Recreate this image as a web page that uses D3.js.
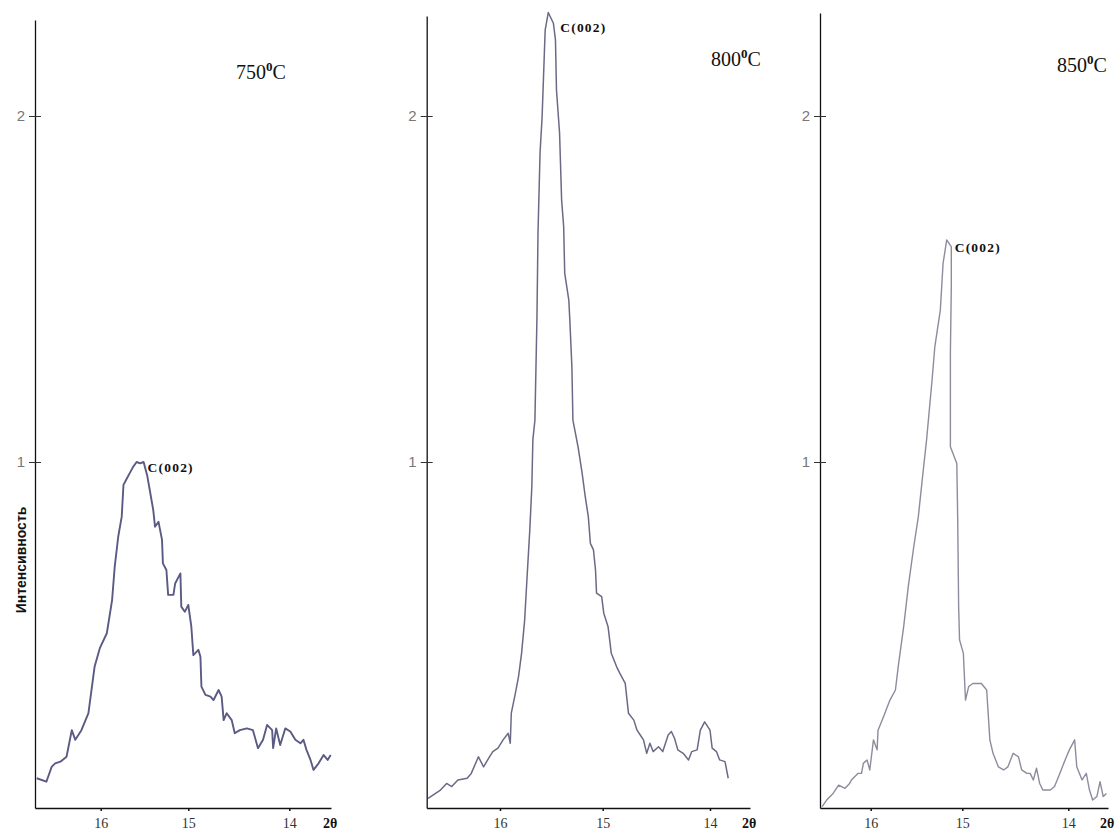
<!DOCTYPE html>
<html>
<head>
<meta charset="utf-8">
<script src="https://cdn.jsdelivr.net/npm/d3@7"></script>
<style>
  html, body { margin: 0; padding: 0; background: #fff; }
  svg { display: block; }
</style>
</head>
<body>
<svg id="chart" width="1118" height="830"></svg>
<script>
// XRD patterns of carbon samples annealed at three temperatures, C(002) reflection region
const temperatures = ["750", "800", "850"];
const thetaTicks = [16, 15, 14];
const intensityTicks = [1, 2];
const peakLabel = "C(002)";
const yAxisTitle = "Интенсивность";
const xAxisTitle = "2θ";

const twoTheta750 = [16.73,16.62,16.56,16.52,16.46,16.39,16.33,16.29,16.22,16.14,16.07,16.01,15.93,15.87,15.84,15.80,15.76,15.74,15.70,15.67,15.63,15.59,15.55,15.51,15.47,15.44,15.40,15.38,15.34,15.30,15.29,15.25,15.23,15.17,15.15,15.09,15.08,15.04,15.00,14.97,14.95,14.90,14.88,14.87,14.83,14.78,14.75,14.70,14.67,14.65,14.62,14.57,14.54,14.49,14.42,14.36,14.31,14.26,14.22,14.17,14.16,14.13,14.09,14.04,13.99,13.94,13.89,13.86,13.83,13.79,13.76,13.71,13.66,13.62,13.59];
const intensity750 = [0.086,0.076,0.119,0.129,0.134,0.148,0.225,0.197,0.225,0.274,0.408,0.462,0.505,0.601,0.697,0.784,0.842,0.934,0.953,0.967,0.986,1.000,0.996,1.000,0.962,0.919,0.861,0.813,0.827,0.775,0.707,0.688,0.616,0.616,0.649,0.678,0.582,0.567,0.587,0.524,0.442,0.457,0.437,0.351,0.327,0.322,0.312,0.341,0.322,0.254,0.274,0.254,0.216,0.225,0.230,0.225,0.173,0.197,0.240,0.225,0.173,0.230,0.182,0.230,0.221,0.197,0.187,0.197,0.168,0.139,0.110,0.129,0.153,0.139,0.153];

const twoTheta800 = [16.70,16.65,16.58,16.52,16.47,16.41,16.32,16.28,16.21,16.16,16.11,16.07,16.02,15.97,15.92,15.90,15.89,15.85,15.82,15.79,15.76,15.74,15.71,15.69,15.68,15.66,15.64,15.63,15.61,15.59,15.56,15.53,15.48,15.46,15.45,15.42,15.40,15.38,15.37,15.33,15.32,15.30,15.29,15.24,15.20,15.17,15.14,15.12,15.09,15.07,15.06,15.01,14.99,14.95,14.92,14.87,14.84,14.79,14.76,14.71,14.68,14.65,14.62,14.59,14.56,14.53,14.48,14.44,14.39,14.36,14.33,14.30,14.25,14.20,14.17,14.12,14.09,14.05,14.00,13.98,13.94,13.91,13.86,13.83];
const intensity800 = [0.028,0.038,0.052,0.071,0.062,0.081,0.086,0.100,0.148,0.119,0.144,0.163,0.173,0.197,0.216,0.187,0.274,0.332,0.379,0.447,0.543,0.649,0.803,0.929,1.064,1.121,1.420,1.662,1.893,1.998,2.249,2.299,2.268,2.220,2.075,1.951,1.757,1.680,1.546,1.468,1.410,1.275,1.121,1.044,0.967,0.900,0.842,0.765,0.746,0.688,0.621,0.611,0.563,0.524,0.447,0.408,0.389,0.360,0.274,0.254,0.225,0.211,0.197,0.158,0.187,0.163,0.177,0.163,0.211,0.221,0.201,0.168,0.158,0.139,0.163,0.168,0.225,0.249,0.225,0.173,0.163,0.139,0.134,0.086];

const twoTheta850 = [16.53,16.48,16.41,16.35,16.28,16.23,16.21,16.14,16.10,16.08,16.04,16.01,15.97,15.93,15.92,15.86,15.79,15.73,15.70,15.64,15.59,15.53,15.48,15.43,15.39,15.33,15.30,15.24,15.21,15.17,15.12,15.12,15.13,15.13,15.06,15.05,15.04,15.03,14.99,14.97,14.94,14.90,14.82,14.77,14.74,14.71,14.66,14.61,14.57,14.52,14.47,14.44,14.39,14.36,14.33,14.30,14.27,14.24,14.17,14.13,14.08,14.03,13.99,13.94,13.92,13.87,13.83,13.80,13.77,13.73,13.70,13.67,13.64];
const intensity850 = [0.004,0.023,0.042,0.066,0.057,0.071,0.081,0.100,0.100,0.129,0.139,0.110,0.197,0.168,0.225,0.264,0.312,0.341,0.408,0.524,0.640,0.755,0.842,0.967,1.064,1.237,1.333,1.439,1.574,1.642,1.622,1.507,1.314,1.044,0.996,0.832,0.582,0.486,0.447,0.312,0.351,0.360,0.360,0.341,0.197,0.158,0.119,0.110,0.119,0.158,0.148,0.110,0.100,0.100,0.081,0.115,0.071,0.052,0.052,0.062,0.100,0.139,0.168,0.197,0.119,0.081,0.100,0.052,0.023,0.033,0.076,0.033,0.042];

const seriesTheta = [twoTheta750, twoTheta800, twoTheta850];
const seriesIntensity = [intensity750, intensity800, intensity850];

// Panel layout: axis placement (the 2θ axis is not uniform, so tick positions are given per panel)
const panels = [
  { left: 35,    right: 331,  top: 20, tickPx: [100.7, 188.3, 289.3],  ends: [16.75, 13.587],  titleX: 236,  titleY: 79, labelDx: 11, labelDy: 10, stroke: "#5a5a84", sw: 1.9 },
  { left: 426.7, right: 750,  top: 16, tickPx: [500, 602.7, 710],      ends: [16.714, 13.627], titleX: 711,  titleY: 66, labelDx: 12, labelDy: 19, stroke: "#6a6a86", sw: 1.5 },
  { left: 820,   right: 1108, top: 13, tickPx: [870.7, 962.3, 1068.3], ends: [16.553, 13.625], titleX: 1057, titleY: 72, labelDx: 8,  labelDy: 12, stroke: "#8c8c9e", sw: 1.4 }
];
const baseY = 808, unitPx = 346;

const svg = d3.select("#chart");

panels.forEach((p, i) => {
  const g = svg.append("g");
  const x = d3.scaleLinear()
    .domain([p.ends[0], ...thetaTicks, p.ends[1]])
    .range([p.left, ...p.tickPx, p.right]);
  const yTopVal = (baseY - p.top) / unitPx;
  const y = d3.scaleLinear().domain([0, yTopVal]).range([baseY, p.top]);

  // y axis
  const ya = g.append("g").attr("transform", `translate(${p.left},0)`)
    .call(d3.axisLeft(y).tickValues(intensityTicks).tickSize(6).tickSizeOuter(0).tickFormat(d3.format("d")));
  ya.select(".domain").attr("stroke", "#111").attr("stroke-width", 1.3);
  ya.selectAll(".tick line").attr("x1", 6).attr("x2", -6).attr("stroke", "#333");
  ya.selectAll(".tick text").attr("x", -10).attr("fill", "#777")
    .style("font-family", "'Liberation Sans', Arial, sans-serif").style("font-size", "15px");

  // x axis
  const xa = g.append("g").attr("transform", `translate(0,${baseY})`)
    .call(d3.axisBottom(x).tickValues(thetaTicks).tickSize(3).tickSizeOuter(0).tickFormat(d3.format("d")));
  xa.select(".domain").attr("stroke", "#111").attr("stroke-width", 1.3);
  xa.selectAll(".tick line").attr("stroke", "#111").attr("stroke-width", 1.5);
  xa.selectAll(".tick text").attr("y", 10).attr("fill", "#333")
    .style("font-family", "'Liberation Serif', 'Times New Roman', serif").style("font-size", "14px");

  g.append("text")
    .attr("x", p.right - 8).attr("y", 828)
    .attr("fill", "#111")
    .style("font-family", "'Liberation Serif', serif").style("font-weight", "bold").style("font-size", "14px")
    .text(xAxisTitle);

  // diffraction curve
  const pts = seriesTheta[i].map((t, k) => [t, seriesIntensity[i][k]]);
  g.append("path")
    .datum(pts)
    .attr("fill", "none")
    .attr("stroke", p.stroke)
    .attr("stroke-width", p.sw)
    .attr("stroke-linejoin", "round")
    .attr("d", d3.line().x(d => x(d[0])).y(d => y(d[1])));

  // peak annotation at the maximum
  const peak = pts.reduce((a, b) => (b[1] > a[1] ? b : a));
  g.append("text")
    .attr("x", x(peak[0]) + p.labelDx).attr("y", y(peak[1]) + p.labelDy)
    .attr("fill", "#111")
    .style("font-family", "'Liberation Serif', serif").style("font-weight", "bold").style("font-size", "13.5px")
    .style("letter-spacing", "1.2px")
    .text(peakLabel);

  // temperature title
  const tt = g.append("text")
    .attr("x", p.titleX).attr("y", p.titleY)
    .attr("fill", "#111")
    .style("font-family", "'Liberation Serif', 'Times New Roman', serif").style("font-size", "20px");
  tt.append("tspan").text(temperatures[i]);
  tt.append("tspan").attr("dy", -8).style("font-size", "13px").style("font-weight", "bold").text("0");
  tt.append("tspan").attr("dy", 8).text("C");
});

// shared intensity title
svg.append("text")
  .attr("transform", "translate(26,560) rotate(-90)")
  .attr("text-anchor", "middle")
  .attr("fill", "#111")
  .style("font-family", "'Liberation Sans', Arial, sans-serif").style("font-weight", "bold").style("font-size", "14px")
  .text(yAxisTitle);
</script>
</body>
</html>
